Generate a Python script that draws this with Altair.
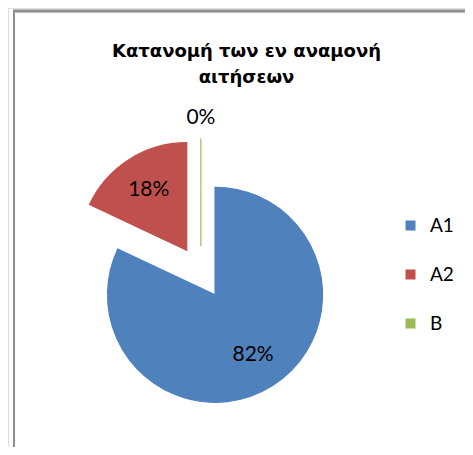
import altair as alt
import pandas as pd

categories = ["A1", "A2", "B"]
values = [82, 18, 0]
colors = ["#4F81BD", "#C0504D", "#9BBB59"]
title_lines = ["Κατανομή των εν αναμονή", "αιτήσεων"]

df = pd.DataFrame({"category": categories, "value": values})

CX, CY = 192.9, 264.5   # pie centre (plot coords)
R = 107.5               # pie radius
E = 26.4                # explosion distance

base = alt.Chart(df).transform_joinaggregate(
    total="sum(value)"
).transform_window(
    cum="sum(value)", sort=[alt.SortField("category")], frame=[None, 0]
).transform_calculate(
    start="(datum.cum - datum.value) / datum.total * 2 * PI",
    end="datum.cum / datum.total * 2 * PI",
).transform_calculate(
    mid="(datum.start + datum.end) / 2",
).transform_calculate(
    px=f"{CX} + {E} * sin(datum.mid)",
    py=f"{CY} - {E} * cos(datum.mid)",
    lr=f"datum.value == 0 ? {R + 21} : {0.66 * R}",
    label="format(datum.value / datum.total, '.0%')",
).transform_calculate(
    lx="datum.px + datum.lr * sin(datum.mid)",
    ly="datum.py - datum.lr * cos(datum.mid)",
)

color_scale = alt.Scale(domain=categories, range=colors)

arcs = base.mark_arc(radius=R, strokeWidth=1.2).encode(
    x=alt.X("px:Q", scale=None),
    y=alt.Y("py:Q", scale=None),
    theta=alt.Theta("start:Q", scale=None, stack=None),
    theta2="end:Q",
    color=alt.Color(
        "category:N",
        scale=color_scale,
        legend=alt.Legend(
            title=None,
            orient="none",
            legendX=393,
            legendY=208,
            symbolType="square",
            symbolSize=100,
            symbolStrokeWidth=0,
            labelFont="Lato",
            labelFontSize=19,
            labelColor="#000000",
            labelOffset=10,
            rowPadding=29,
            padding=0,
        ),
    ),
    stroke=alt.Stroke("category:N", scale=color_scale, legend=None),
)

labels = base.mark_text(
    font="Lato", fontSize=21, color="#000000", align="center", baseline="middle"
).encode(
    x=alt.X("lx:Q", scale=None),
    y=alt.Y("ly:Q", scale=None),
    text="label:N",
)

frame_left = alt.Chart(df).mark_rule(color="#8e8e8e", strokeWidth=2).encode(
    x=alt.value(6), y=alt.value(2), y2=alt.value(460)
)
frame_top = alt.Chart(df).mark_rule(color="#8e8e8e", strokeWidth=2.5).encode(
    y=alt.value(3), x=alt.value(5), x2=alt.value(470)
)

chart = alt.layer(arcs, labels, frame_left, frame_top).properties(
    width=457,
    height=439,
    autosize=alt.AutoSizeParams(type="none"),
    padding=0,
    title=alt.Title(
        title_lines,
        font="DejaVu Sans",
        fontSize=18,
        fontWeight="bold",
        color="#000000",
        anchor="middle",
        offset=-79,
        dx=10,
        lineHeight=26.5,
    ),
).configure_view(stroke=None).configure(background="transparent")

chart.save("out.html", embed_options={"renderer": "svg", "actions": False})
